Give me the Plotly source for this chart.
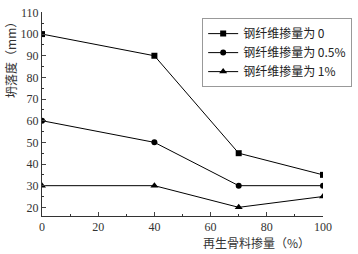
import plotly.graph_objects as go

x = [0, 40, 70, 100]
s0 = [100, 90, 45, 35]
s05 = [60, 50, 30, 30]
s1 = [30, 30, 20, 25]
names = ["钢纤维掺量为 0", "钢纤维掺量为 0.5%", "钢纤维掺量为 1%"]
symbols = ["square", "circle", "triangle-up"]
sizes = [6, 6, 7]

fig = go.Figure()
for ys, nm, sym, sz in zip([s0, s05, s1], names, symbols, sizes):
    fig.add_trace(go.Scatter(x=x, y=ys, name=nm, mode="lines+markers",
                             line=dict(color="black", width=1),
                             marker=dict(symbol=sym, size=sz, color="black")))

tickfont = dict(family="Liberation Serif, DejaVu Serif", size=12, color="#333")
fig.update_layout(
    width=358, height=254,
    margin=dict(l=42, r=30, t=6, b=38),
    paper_bgcolor="white", plot_bgcolor="white",
    showlegend=True,
    legend=dict(x=0.57, y=0.97, xanchor="left", yanchor="top",
                bordercolor="#999", borderwidth=1, bgcolor="white",
                font=dict(family="Noto Sans CJK SC", size=12, color="#222"),
                tracegroupgap=0, itemwidth=30),
    xaxis=dict(range=[0, 100], tickvals=[0, 20, 40, 60, 80, 100],
               ticks="inside", ticklen=4, showline=True, linecolor="#333",
               showgrid=False, zeroline=False, tickfont=tickfont,
               ticklabeloverflow="allow",
               minor=dict(ticks="inside", dtick=10, ticklen=2, tickcolor="#333")),
    yaxis=dict(range=[16, 110.2], tickvals=list(range(20, 111, 10)),
               ticks="inside", ticklen=4, showline=True, linecolor="#333",
               showgrid=False, zeroline=False, tickfont=tickfont,
               ticklabeloverflow="allow",
               minor=dict(ticks="inside", dtick=5, ticklen=2, tickcolor="#333")),
    annotations=[
        dict(text="再生骨料掺量（%）", xref="paper", yref="paper",
             x=(260 - 42) / 286, y=-0.128, xanchor="center", yanchor="middle",
             showarrow=False, font=dict(family="Noto Sans CJK SC", size=12, color="#333")),
        dict(text="坍落度（mm）", xref="paper", yref="paper",
             x=-0.112, y=(216 - 52) / 211, xanchor="center", yanchor="middle",
             textangle=-90, showarrow=False,
             font=dict(family="Noto Sans CJK SC", size=12, color="#333")),
    ],
)
fig.write_html("out.html")
